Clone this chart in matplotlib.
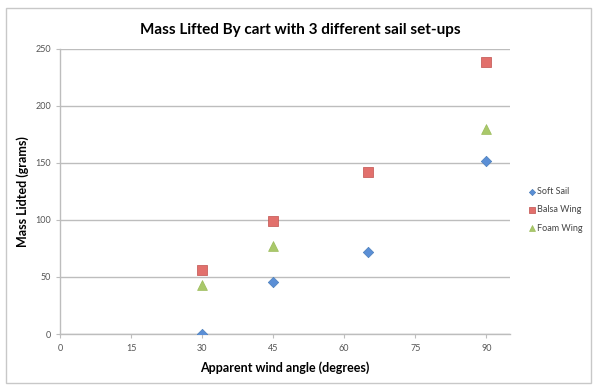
import matplotlib
matplotlib.use("Agg")
import matplotlib.pyplot as plt
from matplotlib.patches import Rectangle

plt.rcParams['font.family'] = ['Lato', 'DejaVu Sans']

title = "Mass Lifted By cart with 3 different sail set-ups"
xlabel = "Apparent wind angle (degrees)"
ylabel = "Mass Lidted (grams)"

soft_x = [30, 45, 65, 90]
soft_y = [0, 46, 72, 152]
balsa_x = [30, 45, 65, 90]
balsa_y = [56, 99, 142, 239]
foam_x = [30, 45, 90]
foam_y = [43, 77, 180]

xticks = [0, 15, 30, 45, 60, 75, 90]
yticks = [0, 50, 100, 150, 200, 250]

fig = plt.figure(figsize=(6, 3.9), dpi=100)
fig.patches.append(Rectangle((6/600, 1-383/390), 585/600, 375/390, transform=fig.transFigure,
                             fill=False, edgecolor='#c8c8c8', linewidth=1.0))
ax = fig.add_axes([60/600, 1-334/390, 450/600, 285/390])

ax.scatter(soft_x, soft_y, marker='D', s=28, color='#5b8fd6', edgecolor='#4a7ebb', linewidth=0.5, label='Soft Sail', zorder=3)
ax.scatter(balsa_x, balsa_y, marker='s', s=50, color='#e2706c', edgecolor='#c0504d', linewidth=0.5, label='Balsa Wing', zorder=3)
ax.scatter(foam_x, foam_y, marker='^', s=50, color='#a9c86a', edgecolor='#9bbb59', linewidth=0.5, label='Foam Wing', zorder=3)

ax.set_xlim(0, 95)
ax.set_ylim(0, 250)
ax.set_xticks(xticks)
ax.set_yticks(yticks)
ax.yaxis.grid(True, color='#bdbdbd', linewidth=1.0)
ax.set_axisbelow(True)
for s in ['top', 'right']:
    ax.spines[s].set_visible(False)
for s in ['left', 'bottom']:
    ax.spines[s].set_color('#bdbdbd')
    ax.spines[s].set_linewidth(1.0)
ax.tick_params(colors='#bdbdbd', labelcolor='#555555', labelsize=6.5, length=3, direction='out')
ax.tick_params(axis='x', pad=4)

ax.set_xlabel(xlabel, fontsize=9, fontweight='bold', labelpad=6)
ax.set_ylabel(ylabel, fontsize=9, fontweight='bold', labelpad=0)
ax.yaxis.set_label_coords(-70/450 + 40/450, 0.5)
ax.yaxis.label.set_position((0, 0.5))
ax.yaxis.set_label_coords((29 - 60) / 450, 0.5)
fig.text(0.5, 1-30/390, title, ha='center', va='center', fontsize=11, fontweight='bold')

leg = fig.legend(loc='center left', bbox_to_anchor=(522/600, 1-210/390), frameon=False,
                 fontsize=6.5, handletextpad=0.0, handlelength=1.2, labelspacing=1.0,
                 markerscale=0.6, borderpad=0)
for t in leg.get_texts():
    t.set_color('#444444')

fig.savefig('out.png', dpi=100)
